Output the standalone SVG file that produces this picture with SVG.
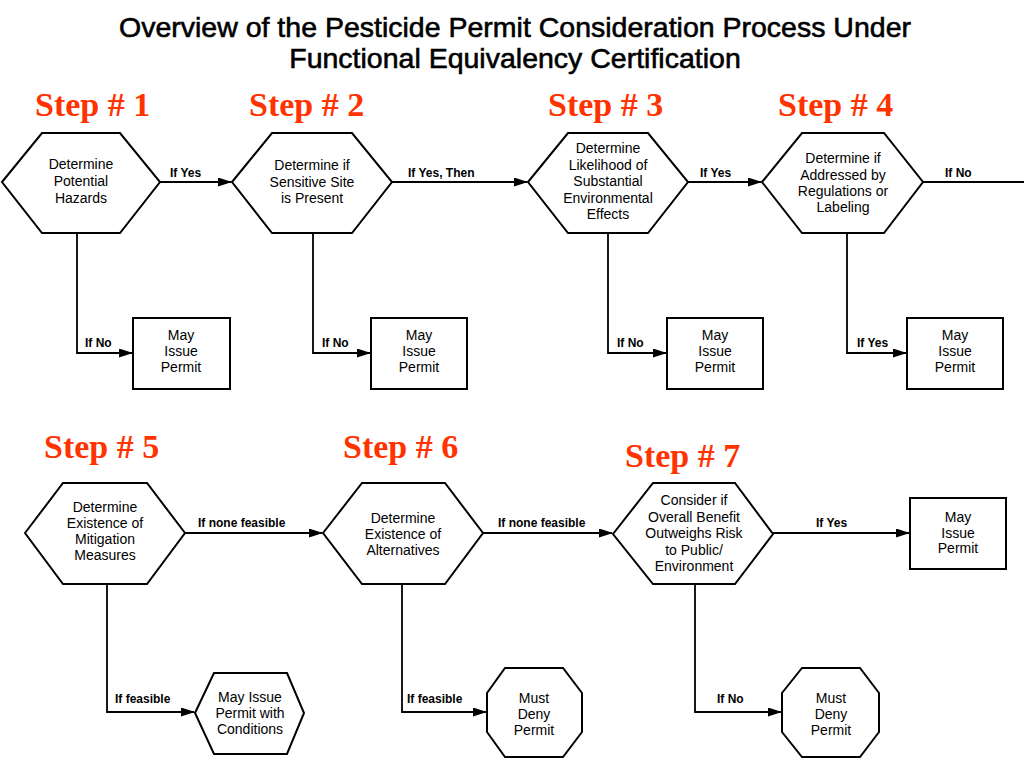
<svg xmlns="http://www.w3.org/2000/svg" width="1024" height="768" viewBox="0 0 1024 768">
<style>
.shape{fill:#fff;stroke:#000;stroke-width:2;stroke-linejoin:miter}
.nt{font-family:"Liberation Sans",Arial,sans-serif;font-size:14px;text-anchor:middle;fill:#000}
.lbl{font-family:"Liberation Sans",Arial,sans-serif;font-size:12px;font-weight:bold;fill:#000}
.conn{fill:none;stroke:#000;stroke-width:1.8}
.step{font-family:"Liberation Serif","Times New Roman",serif;font-size:34px;font-weight:bold;fill:#ff3300}
.title{font-family:"Liberation Sans",Arial,sans-serif;font-size:28.5px;text-anchor:middle;fill:#000;stroke:#000;stroke-width:0.6}
</style>
<defs>
<marker id="arr" markerUnits="userSpaceOnUse" markerWidth="14" markerHeight="10" refX="13" refY="4.5" orient="auto">
<path d="M0,0 L14,4.5 L0,9 z" fill="#000"/>
</marker>
</defs>
<rect width="1024" height="768" fill="#fff"/>
<g id="title">
<text class="title" x="515" y="37">Overview of the Pesticide Permit Consideration Process Under</text>
<text class="title" x="515" y="68">Functional Equivalency Certification</text>
</g>
<g id="steps">
<text class="step" x="35" y="116">Step # 1</text>
<text class="step" x="249" y="116">Step # 2</text>
<text class="step" x="548" y="116">Step # 3</text>
<text class="step" x="778" y="116">Step # 4</text>
<text class="step" x="44" y="458">Step # 5</text>
<text class="step" x="343" y="458">Step # 6</text>
<text class="step" x="625" y="467">Step # 7</text>
</g>
<g id="connectors">
<path class="conn" d="M160,182 H231" marker-end="url(#arr)"/>
<path class="conn" d="M392,182 H527" marker-end="url(#arr)"/>
<path class="conn" d="M688,182 H761" marker-end="url(#arr)"/>
<path class="conn" d="M923,182 H1024"/>
<path class="conn" d="M77,233 V353 H132" marker-end="url(#arr)"/>
<path class="conn" d="M313,233 V353 H370" marker-end="url(#arr)"/>
<path class="conn" d="M608,233 V353 H666" marker-end="url(#arr)"/>
<path class="conn" d="M847,233 V353 H906" marker-end="url(#arr)"/>
<path class="conn" d="M185,533 H322" marker-end="url(#arr)"/>
<path class="conn" d="M483,533 H612" marker-end="url(#arr)"/>
<path class="conn" d="M773,533 H909" marker-end="url(#arr)"/>
<path class="conn" d="M107,584 V712 H194" marker-end="url(#arr)"/>
<path class="conn" d="M402,584 V712 H486" marker-end="url(#arr)"/>
<path class="conn" d="M695,584 V712 H781" marker-end="url(#arr)"/>
<text class="lbl" x="170" y="177">If Yes</text>
<text class="lbl" x="408" y="177">If Yes, Then</text>
<text class="lbl" x="700" y="177">If Yes</text>
<text class="lbl" x="945" y="177">If No</text>
<text class="lbl" x="85" y="347">If No</text>
<text class="lbl" x="322" y="347">If No</text>
<text class="lbl" x="617" y="347">If No</text>
<text class="lbl" x="857" y="347">If Yes</text>
<text class="lbl" x="198" y="527">If none feasible</text>
<text class="lbl" x="498" y="527">If none feasible</text>
<text class="lbl" x="816" y="527">If Yes</text>
<text class="lbl" x="115" y="703">If feasible</text>
<text class="lbl" x="407" y="703">If feasible</text>
<text class="lbl" x="717" y="703">If No</text>
</g>
<g id="step1">
<polygon class="shape" points="2,182 42,133 120,133 160,182 120,233 42,233"/>
<text class="nt" x="81" y="169">Determine</text>
<text class="nt" x="81" y="186">Potential</text>
<text class="nt" x="81" y="203">Hazards</text>
</g>
<g id="step2">
<polygon class="shape" points="232,182 272,133 352,133 392,182 352,233 272,233"/>
<text class="nt" x="312" y="170">Determine if</text>
<text class="nt" x="312" y="187">Sensitive Site</text>
<text class="nt" x="312" y="203">is Present</text>
</g>
<g id="step3">
<polygon class="shape" points="528,182 568,133 648,133 688,182 648,233 568,233"/>
<text class="nt" x="608" y="153">Determine</text>
<text class="nt" x="608" y="170">Likelihood of</text>
<text class="nt" x="608" y="186">Substantial</text>
<text class="nt" x="608" y="203">Environmental</text>
<text class="nt" x="608" y="219">Effects</text>
</g>
<g id="step4">
<polygon class="shape" points="762,182 802,133 884,133 923,182 884,233 802,233"/>
<text class="nt" x="843" y="163">Determine if</text>
<text class="nt" x="843" y="180">Addressed by</text>
<text class="nt" x="843" y="196">Regulations or</text>
<text class="nt" x="843" y="212">Labeling</text>
</g>
<g id="permit1">
<rect class="shape" x="133" y="318" width="97" height="71"/>
<text class="nt" x="181" y="340">May</text>
<text class="nt" x="181" y="356">Issue</text>
<text class="nt" x="181" y="372">Permit</text>
</g>
<g id="permit2">
<rect class="shape" x="371" y="318" width="96" height="71"/>
<text class="nt" x="419" y="340">May</text>
<text class="nt" x="419" y="356">Issue</text>
<text class="nt" x="419" y="372">Permit</text>
</g>
<g id="permit3">
<rect class="shape" x="667" y="318" width="96" height="71"/>
<text class="nt" x="715" y="340">May</text>
<text class="nt" x="715" y="356">Issue</text>
<text class="nt" x="715" y="372">Permit</text>
</g>
<g id="permit4">
<rect class="shape" x="907" y="318" width="96" height="71"/>
<text class="nt" x="955" y="340">May</text>
<text class="nt" x="955" y="356">Issue</text>
<text class="nt" x="955" y="372">Permit</text>
</g>
<g id="step5">
<polygon class="shape" points="25,533 63,483 147,483 185,533 147,584 63,584"/>
<text class="nt" x="105" y="512">Determine</text>
<text class="nt" x="105" y="528">Existence of</text>
<text class="nt" x="105" y="544">Mitigation</text>
<text class="nt" x="105" y="560">Measures</text>
</g>
<g id="step6">
<polygon class="shape" points="323,533 362,483 445,483 483,533 445,584 362,584"/>
<text class="nt" x="403" y="523">Determine</text>
<text class="nt" x="403" y="539">Existence of</text>
<text class="nt" x="403" y="555">Alternatives</text>
</g>
<g id="step7">
<polygon class="shape" points="613,534 653,483 735,483 773,534 735,584 653,584"/>
<text class="nt" x="694" y="505">Consider if</text>
<text class="nt" x="694" y="522">Overall Benefit</text>
<text class="nt" x="694" y="538">Outweighs Risk</text>
<text class="nt" x="694" y="555">to Public/</text>
<text class="nt" x="694" y="571">Environment</text>
</g>
<g id="permit7">
<rect class="shape" x="910" y="498" width="96" height="71"/>
<text class="nt" x="958" y="522">May</text>
<text class="nt" x="958" y="538">Issue</text>
<text class="nt" x="958" y="553">Permit</text>
</g>
<g id="conditions">
<polygon class="shape" points="195,713 214,673 287,673 304,713 287,754 214,754"/>
<text class="nt" x="250" y="702">May Issue</text>
<text class="nt" x="250" y="718">Permit with</text>
<text class="nt" x="250" y="734">Conditions</text>
</g>
<g id="deny6">
<polygon class="shape" points="505,668 563,668 582,693 582,732 563,757 505,757 487,732 487,693"/>
<text class="nt" x="534" y="703">Must</text>
<text class="nt" x="534" y="719">Deny</text>
<text class="nt" x="534" y="735">Permit</text>
</g>
<g id="deny7">
<polygon class="shape" points="802,668 860,668 879,693 879,732 860,757 802,757 782,732 782,693"/>
<text class="nt" x="831" y="703">Must</text>
<text class="nt" x="831" y="719">Deny</text>
<text class="nt" x="831" y="735">Permit</text>
</g>
</svg>
